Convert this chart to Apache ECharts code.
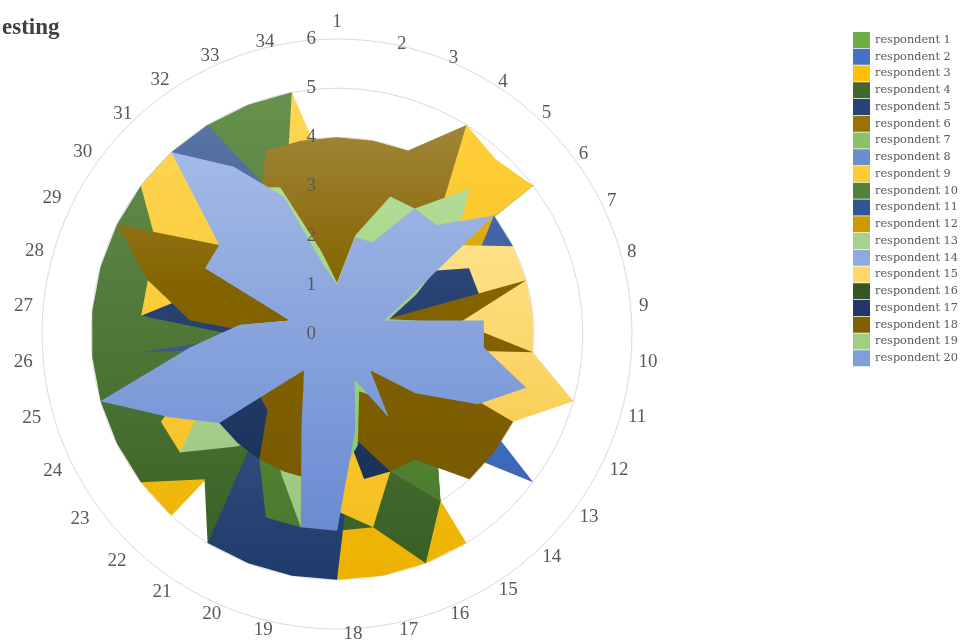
<!DOCTYPE html>
<html><head><meta charset="utf-8">
<script src="https://cdn.jsdelivr.net/npm/echarts@6/dist/echarts.min.js"></script>
<style>html,body{margin:0;padding:0;background:#fff;}#c{width:971px;height:641px;}</style>
</head><body><div id="c"></div>
<script>
// Axis names (clockwise from top) and tick labels
const axisNames = ['1','2','3','4','5','6','7','8','9','10','11','12','13','14','15','16','17','18','19','20','21','22','23','24','25','26','27','28','29','30','31','32','33','34'];
const tickLabels = ['0','1','2','3','4','5','6'];
const seriesNames = ['respondent 1','respondent 2','respondent 3','respondent 4','respondent 5','respondent 6','respondent 7','respondent 8','respondent 9','respondent 10','respondent 11','respondent 12','respondent 13','respondent 14','respondent 15','respondent 16','respondent 17','respondent 18','respondent 19','respondent 20'];

// Values per respondent, axis 1..34
const respondent1  = [1, 1, 2, 3, 4, 5.03, 0.7, 1, 2, 2, 2, 2, 1, 0.2, 4, 4, 4, 4, 4, 4, 0.5, 4, 4, 4, 4, 4, 4, 4, 4, 4, 4, 4, 3, 3];
const respondent2  = [1, 1, 1, 2, 2, 2, 1, 1, 2, 2, 2, 3, 5, 3, 2, 1, 1, 2, 2, 1, 1, 1, 2, 2, 3, 2, 1, 1, 2, 2, 3, 2, 2, 1];
const respondent3  = [1, 2, 3, 5, 4.8, 5, 0.5, 1, 2, 2, 2, 2, 1, 0.2, 5, 5, 5, 5, 4.5, 4, 0.6, 5, 5, 4, 4, 4, 4, 4, 4, 4, 4, 4, 3, 3];
const respondent4  = [2, 1, 1, 2, 2, 2, 1, 1, 2, 2, 2, 2, 2, 3, 4, 5, 4, 4, 4, 4, 5, 4, 5, 5, 5, 5, 5, 5, 5, 5, 5, 5, 5, 5];
const respondent5  = [1, 1, 1, 2, 2, 2, 1, 1, 2, 2, 2, 2, 1, 1, 1, 1, 2, 5, 5, 5, 5, 2.2, 2, 2, 1, 4, 1, 2, 3, 4, 5, 5, 2.66, 2];
const respondent6  = [1, 1, 1, 2, 2, 2, 1, 1, 2, 2, 2, 2, 1, 1, 1, 1, 1, 2, 2, 1, 1, 1, 2, 2, 3, 2, 1, 1, 2, 2, 3, 2, 2, 1];
const respondent7  = [0.5, 1, 1.5, 2, 2.5, 3, 1, 0.5, 2, 2.5, 3, 2.5, 1.5, 0.5, 1.5, 0.5, 1.5, 3, 3, 1.5, 1, 0.5, 2.5, 3, 4, 2.5, 1.5, 0.5, 2.5, 2.5, 4, 3, 2.5, 1];
const respondent8  = [1, 2, 2, 3, 2, 3, 1.5, 1, 3, 2, 4, 3, 2, 1, 2, 1, 2, 4, 3, 2, 1, 1, 3, 3, 5, 3, 2, 1, 3, 2, 5, 4, 3, 1];
const respondent9  = [2.8, 2, 2, 2, 2, 2, 1, 1, 2, 2, 2, 2, 1.5, 1, 2, 3, 4, 3.6, 3, 2, 1.3, 1, 4, 4, 3, 1, 4, 4, 4.1, 5, 5, 3, 2.9, 5];
const respondent10 = [1, 1, 1, 2, 2, 2, 1, 1, 2, 2, 2, 2, 1, 3, 4, 3, 2, 2, 4, 4, 3, 2, 2, 2, 3, 2, 1, 1, 2, 2, 3, 2, 2, 1];
const respondent11 = [1, 1, 1, 2, 2, 4, 4, 2, 2, 2, 2, 2, 1, 1, 1, 1, 1, 2, 2, 1, 1, 1, 2, 2, 3, 2, 1, 1, 2, 2, 3, 2, 2, 1];
const respondent12 = [1, 1, 1, 2, 2, 4, 3.1, 1, 2, 2, 2, 2, 1, 1, 1, 1, 1, 2, 2, 1, 1, 1, 2, 2, 3, 2, 1, 1, 2, 2, 3, 2, 2, 1];
const respondent13 = [1, 1, 1, 2, 2, 2, 1, 1, 2, 2, 2, 2, 1, 1, 1, 1, 1.5, 2, 4, 3.1, 2.5, 3.1, 4, 3, 2, 2, 1, 1, 2, 2, 3, 3, 2, 1];
const respondent14 = [0.8, 1.5, 1.5, 2, 2, 3, 1, 0.8, 2, 2, 3, 2, 1.5, 0.8, 1.5, 0.8, 1.5, 3, 3, 1.5, 1, 0.8, 2, 3, 4, 2, 1.5, 0.8, 2, 2, 4, 3, 2, 1];
const respondent15 = [1, 1, 1, 2, 2, 3, 4, 4, 4, 4, 5, 4, 2.5, 1, 1, 0.5, 1, 2, 2, 1, 1, 0.5, 2, 2, 3, 2, 1, 0.5, 2, 2, 3, 2, 2, 1];
const respondent16 = [0.5, 1, 1, 2, 2, 2, 1, 0.5, 2, 2, 2, 2, 1, 0.5, 1, 0.5, 1, 2, 2, 1, 1, 0.5, 2, 2, 3, 2, 1, 0.5, 2, 2, 3, 2, 2, 1];
const respondent17 = [1, 1, 1, 2, 2, 2.1, 3, 3, 2, 2, 2, 2, 1.5, 1, 1.5, 3, 3, 1.5, 2, 2, 3, 3, 3, 3, 2, 1.5, 4, 3, 2, 2, 3, 3, 2, 1];
const respondent18 = [4, 4, 4, 5, 3, 2, 0.1, 4, 2.5, 4, 1.1, 4, 4, 4, 3, 3, 2.2, 2, 3, 3, 3, 2.1, 2, 2, 2, 1, 3, 4, 5, 3, 3, 3, 4, 4];
const respondent19 = [1.05, 2.05, 3, 3, 4, 3, 1.8, 1.1, 2.5, 2.5, 2, 2, 1.5, 1, 1.5, 1.25, 2.3, 3, 3, 1.5, 1, 1, 2.5, 3, 4, 2.5, 2, 1, 2.5, 2.5, 4, 3.5, 3.2, 1.7];
const respondent20 = [1, 2, 2, 3, 3, 4, 1.6, 1, 3, 3, 4, 3.2, 2, 1, 2, 1, 2, 4, 4, 2, 1.3, 1, 3, 3.8, 5, 3, 2, 1, 3, 3, 5, 4, 3, 1.4];

const allValues = [respondent1, respondent2, respondent3, respondent4, respondent5, respondent6, respondent7, respondent8, respondent9, respondent10,
  respondent11, respondent12, respondent13, respondent14, respondent15, respondent16, respondent17, respondent18, respondent19, respondent20];

// Styles
const legendColors = ['#70AD47','#4472C4','#FFC000','#43682B','#264478','#997300','#8CC168','#698ED0','#FFCD33','#548235','#2F5597','#CC9A00','#A9D18E','#8FAADC','#FFD966','#375623','#1F3864','#7F6000','#9FCF7F','#7F9FD9'];
const fillTop    = ['#80BC58','#5A86D4','#FFCE3A','#66924D','#5874A6','#B08B25','#A0CF80','#82A2DA','#FFD755','#66983F','#4668A8','#E2AD12','#B8DAA2','#A5BBE4','#FFE38C','#46682E','#2F4B80','#A08536','#B2DC96','#A3BAE6'];
const fillBottom = ['#62A03A','#3A66B8','#EDB200','#395F24','#1F3B6C','#8A6800','#7DB458','#5A80C6','#F5C020','#4A7A2E','#294C8A','#C29200','#9CC67E','#7F9CD4','#F8CF55','#304C1E','#1A3158','#795A00','#8CC66B','#6A8BD3'];
// gap (px) between the outer ring and each axis name, axis 1..34
const nameGaps = [7.5, 0, 0.7, 1.6, 4.4, 4.2, 4.4, 5.5, 7.4, 7.9, 7.6, 9.5, 9, 6.7, 6.4, 5, 5.7, -7, 6.1, 5.8, 8.1, 11.6, 12.6, 11.8, 12.6, 10.6, 10.3, 9.6, 9.4, 6.8, 3, 4, 2.9, 1.6];
// small extra [dx, dy] nudges of each axis name, axis 1..34
const nameNudge = [[0,0],[5.7,2],[5,3],[5,4],[3,3],[3,4],[2,6],[1,6],[1,4],[0,3],[0,0],[0,0],[0,0],[2,0],[3,0],[5,0],[7,0],[6.5,3],[-9,0],[-7,0],[-6,-2],[-4,-2],[-2,0],[0,0],[0,2],[0,3],[0,4],[0,6],[-3,8],[-4,6],[-4,6],[-10,8],[-10,5],[-8,4]];

function nameStyle(k) {
  const dx = nameNudge[k][0], dy = nameNudge[k][1];
  if (k === 0) return {};
  if (k === 17) return { align: 'left', padding: [Math.max(dy, 0), 0, 0, Math.max(dx, 0)] };
  const top = dy > 0 ? 2 * dy : 0, bottom = dy < 0 ? -2 * dy : 0;
  if (k < 17) return { padding: [top, 0, bottom, Math.max(dx, 0)] };
  return { padding: [top, Math.max(-dx, 0), bottom, 0] };
}

// ECharts lays radar axes counter-clockwise; reorder so axes run clockwise
const order = [0];
for (let k = axisNames.length - 1; k >= 1; k--) order.push(k);

const font = 'Liberation Serif';
const indicatorMain = order.map(k => ({ name: axisNames[k], min: 0, max: 6, nameGap: nameGaps[k], nameTextStyle: nameStyle(k) }));
const indicatorLabels = order.map((k, i) => (i === 0 ? { name: '', min: 0, max: 6, axisLabel: { show: true } } : { name: '', min: 0, max: 6 }));

const series = allValues.map((vals, i) => {
  const stops = i === 17
    ? [{ offset: 0, color: fillTop[i] }, { offset: 0.45, color: '#846400' }, { offset: 1, color: fillBottom[i] }]
    : [{ offset: 0, color: fillTop[i] }, { offset: 1, color: fillBottom[i] }];
  return {
    type: 'radar',
    radarIndex: 0,
    name: seriesNames[i],
    symbol: 'none',
    silent: true,
    itemStyle: { color: legendColors[i] },
    lineStyle: { width: 0, opacity: 0 },
    areaStyle: { opacity: 1, color: { type: 'linear', x: 0, y: 0, x2: 0, y2: 1, colorStops: stops } },
    emphasis: { disabled: true },
    data: [{ name: seriesNames[i], value: order.map(k => vals[k]) }]
  };
});

const chart = echarts.init(document.getElementById('c'), null, { renderer: 'canvas' });
chart.setOption({
  animation: false,
  backgroundColor: '#ffffff',
  title: {
    text: 'esting', left: -3, top: 12,
    textStyle: { fontFamily: font, fontSize: 23, fontWeight: 'bold', color: '#404040' }
  },
  legend: {
    orient: 'vertical', left: 848, top: 27,
    itemWidth: 17, itemHeight: 16, itemGap: 0.75, icon: 'rect',
    textStyle: { fontFamily: 'DejaVu Serif', fontSize: 11.3, color: '#595959' },
    data: seriesNames, selectedMode: false
  },
  radar: [
    {
      center: [337, 334], radius: 295, startAngle: 90, splitNumber: 6, shape: 'circle',
      indicator: indicatorMain,
      axisName: { color: '#595959', fontFamily: font, fontSize: 19 },
      splitLine: { lineStyle: { color: '#D9D9D9', width: 1 } },
      splitArea: { show: false },
      axisLine: { show: false },
      axisTick: { show: false },
      axisLabel: { show: false }
    },
    {
      center: [337, 334], radius: 295, startAngle: 90, splitNumber: 6, shape: 'circle', z: 10,
      indicator: indicatorLabels,
      axisName: { show: false },
      splitLine: { show: false },
      splitArea: { show: false },
      axisLine: { show: false },
      axisTick: { show: false },
      axisLabel: {
        show: false, margin: 21, color: '#595959', fontFamily: font, fontSize: 19,
        formatter: v => tickLabels[Math.round(v)]
      }
    }
  ],
  series: series
});
</script>
</body></html>
